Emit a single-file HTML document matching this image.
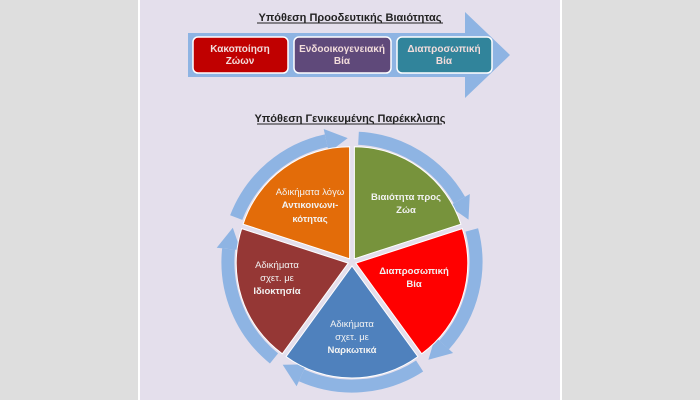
<!DOCTYPE html>
<html><head><meta charset="utf-8"><style>
html,body{margin:0;padding:0;width:700px;height:400px;overflow:hidden;background:#dedede}
svg{display:block}
text{font-family:"Liberation Sans","DejaVu Sans",sans-serif}
</style></head><body>
<svg width="700" height="400" viewBox="0 0 700 400" xmlns="http://www.w3.org/2000/svg">
<rect x="138" y="0" width="424" height="400" fill="#ffffff"/>
<rect x="140" y="0" width="420" height="400" fill="#e4dfec"/>
<text x="350" y="21" font-size="11" font-weight="bold" text-anchor="middle" fill="#222">Υπόθεση Προοδευτικής Βιαιότητας</text>
<line x1="257" y1="23" x2="443" y2="23" stroke="#222" stroke-width="1"/>
<polygon points="188,33 465,33 465,12 510,55 465,98 465,77 188,77" fill="#8eb4e3"/>
<rect x="193" y="37" width="95" height="36" rx="5" fill="#c00000" stroke="#fff" stroke-width="1.5"/>
<rect x="294" y="37" width="97" height="36" rx="5" fill="#5f497a" stroke="#fff" stroke-width="1.5"/>
<rect x="397" y="37" width="95" height="36" rx="5" fill="#31849b" stroke="#fff" stroke-width="1.5"/>
<g font-size="10" font-weight="bold" fill="#f2dcdb" text-anchor="middle">
<text x="240" y="52">Κακοποίηση</text><text x="240" y="64">Ζώων</text>
<text x="342" y="52">Ενδοοικογενειακή</text><text x="342" y="64">Βία</text>
<text x="444" y="52">Διαπροσωπική</text><text x="444" y="64">Βία</text>
</g>
<text x="350" y="122" font-size="11" font-weight="bold" text-anchor="middle" fill="#222">Υπόθεση Γενικευμένης Παρέκκλισης</text>
<line x1="257" y1="124" x2="442" y2="124" stroke="#222" stroke-width="1"/>
<g fill="none" stroke="#8eb4e3" stroke-width="13">
<path d="M358.5,138.2 A124,124 0 0 1 459.4,200"/>
<path d="M471.8,229.9 A124,124 0 0 1 444.1,345"/>
<path d="M419.6,366 A124,124 0 0 1 301.5,375.3"/>
<path d="M274,358.4 A124,124 0 0 1 228.6,249"/>
<path d="M236.2,217.6 A124,124 0 0 1 326.2,140.7"/>
</g>
<g fill="#8eb4e3">
<polygon points="449,206 469.8,194 468.5,219.6"/>
<polygon points="435.2,336.9 453.1,353 428.4,359.7"/>
<polygon points="306.4,364.4 296.6,386.3 282.7,364.8"/>
<polygon points="240.6,250.2 216.7,247.7 232.8,227.8"/>
<polygon points="328.7,152.5 323.7,129 347.7,138.1"/>
</g>
<path transform="translate(2.4,-3.2)" d="M352,262 L352,150 A112,112 0 0 1 458.5,227.4 Z" fill="#77933c" stroke="#fff" stroke-width="1"/>
<path transform="translate(3.8,1.2)" d="M352,262 L458.5,227.4 A112,112 0 0 1 417.9,352.6 Z" fill="#ff0000" stroke="#fff" stroke-width="1"/>
<path transform="translate(0,4)" d="M352,262 L417.9,352.6 A112,112 0 0 1 286.1,352.6 Z" fill="#4f81bd" stroke="#fff" stroke-width="1"/>
<path transform="translate(-3.8,1.2)" d="M352,262 L286.1,352.6 A112,112 0 0 1 245.5,227.4 Z" fill="#953735" stroke="#fff" stroke-width="1"/>
<path transform="translate(-2.4,-3.2)" d="M352,262 L245.5,227.4 A112,112 0 0 1 352,150 Z" fill="#e36c09" stroke="#fff" stroke-width="1"/>
<g font-size="9.5" text-anchor="middle" fill="#f2f2f2">
<text x="406" y="200" font-weight="bold">Βιαιότητα προς</text><text x="406" y="213" font-weight="bold">Ζώα</text>
<text x="414" y="274" font-weight="bold">Διαπροσωπική</text><text x="414" y="287" font-weight="bold">Βία</text>
<text x="352" y="327">Αδικήματα</text><text x="352" y="340">σχετ. με</text><text x="352" y="353" font-weight="bold">Ναρκωτικά</text>
<text x="277" y="268">Αδικήματα</text><text x="277" y="281">σχετ. με</text><text x="277" y="294" font-weight="bold">Ιδιοκτησία</text>
<text x="310" y="195">Αδικήματα λόγω</text><text x="310" y="208" font-weight="bold">Αντικοινωνι-</text><text x="310" y="222" font-weight="bold">κότητας</text>
</g>
</svg>
</body></html>
